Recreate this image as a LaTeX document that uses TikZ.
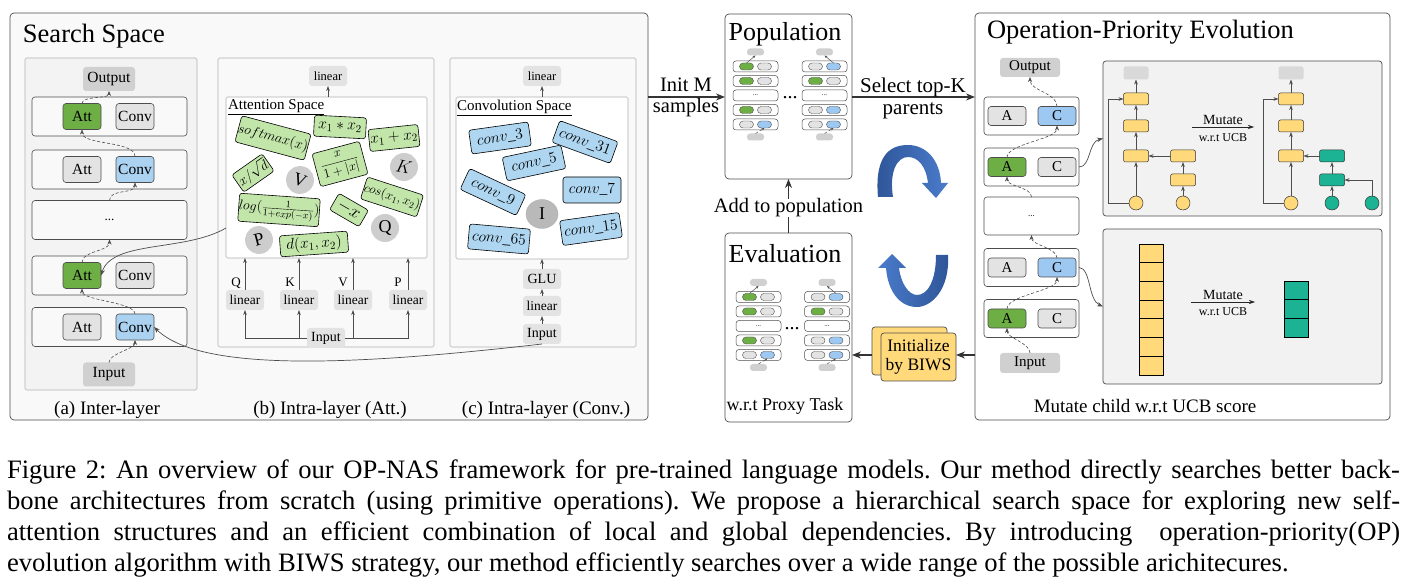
\RequirePackage{fix-cm}
\documentclass[tikz,border=0pt]{standalone}
\usepackage{fontspec}
\setmainfont{Liberation Serif}
\usetikzlibrary{arrows.meta,calc,shapes.geometric}
\definecolor{attgreen}{HTML}{6DAE45}
\definecolor{convblue}{HTML}{ABD2F1}
\definecolor{minblue}{HTML}{9CC8F2}
\definecolor{boxgray}{HTML}{E3E3E3}
\definecolor{iogray}{HTML}{D0D0D0}
\definecolor{lgreen}{HTML}{C2E5AA}
\definecolor{lblue}{HTML}{AED6F1}
\definecolor{ylw}{HTML}{FFD97A}
\definecolor{tealc}{HTML}{1BB394}
\definecolor{panelgray}{HTML}{F2F2F2}
\definecolor{ssfill}{HTML}{F9F9F9}
\definecolor{afill}{HTML}{F3F3F3}
\definecolor{circgray}{HTML}{CDCDCD}
\definecolor{edge}{HTML}{4D4D4D}
\definecolor{adark}{HTML}{2E5597}
\definecolor{alight}{HTML}{4A7BCB}
\newcommand{\fsz}[1]{\fontsize{#1}{#1}\selectfont}
\newcommand{\minicol}[7]{%
  \begin{scope}[shift={#2}]
    \node[minibar] (#1top) at (0,-14.5) {};
    \node[minibar] (#1bot) at (0,70.5) {};
    \node[minirow, font=\fsz{7}] (#1r3) at (0,29) {...};
    \foreach \r/\ca/\cb in {1/#3,2/#4,4/#5,5/#6} {
      \pgfmathsetmacro\yy{(\r-1)*14.5}
      \node[minirow] (#1r\r) at (0,\yy) {};
      \node[minioval, fill=\ca] (#1a\r) at (-9,\yy) {};
      \node[minioval, fill=\cb] (#1b\r) at (9,\yy) {};
    }
    \draw[miniarr] (#1#71.north) -- (#1top.south);
    \draw[miniarr, densely dashed] (#1bot.north) -- (#1b5.south);
  \end{scope}}
\begin{document}
\begin{tikzpicture}[x=1pt,y=-1pt,
  every node/.style={inner sep=0pt, outer sep=0pt},
  bigpanel/.style={draw=edge, rounded corners=4pt, line width=0.7pt, anchor=north west},
  subpanel/.style={draw=gray!60, line width=0.6pt, anchor=north west, rounded corners=1.5pt},
  rowbox/.style={draw=edge, rounded corners=3pt, fill=ssfill, line width=0.6pt, minimum width=155pt, minimum height=39pt},
  oprow/.style={draw=edge, rounded corners=3pt, fill=white, line width=0.6pt, minimum width=95pt, minimum height=38pt},
  opsq/.style={draw=edge, rounded corners=3pt, line width=0.6pt, minimum width=38pt, minimum height=26pt, font=\fsz{15.5}},
  opsm/.style={draw=edge, rounded corners=3pt, line width=0.6pt, minimum width=38pt, minimum height=19pt, font=\fsz{15}},
  iobox/.style={fill=iogray, rounded corners=3pt, minimum width=52pt, minimum height=24pt, font=\fsz{15.5}},
  iosm/.style={fill=iogray, rounded corners=3pt, minimum width=60pt, minimum height=19pt, font=\fsz{15}},
  linbox/.style={fill=boxgray, rounded corners=3pt, minimum width=38pt, minimum height=20pt, font=\fsz{13.5}},
  gmath/.style={draw=black, fill=lgreen, rounded corners=2.5pt, line width=0.6pt},
  bconv/.style={draw=black, fill=lblue, rounded corners=2.5pt, line width=0.6pt, font=\fsz{15.5}},
  gcirc/.style={circle, fill=circgray, minimum size=28pt, font=\fsz{18}},
  dasharr/.style={draw=edge, line width=0.6pt, dash pattern=on 3pt off 2pt, -{Stealth[length=5pt,width=4pt]}},
  arr/.style={draw=edge, line width=0.6pt, -{Stealth[length=5pt,width=3.6pt]}},
  curvearr/.style={draw=edge, line width=0.7pt, -{Stealth[length=6pt,width=4.5pt]}},
  bigarr/.style={draw=black!80, line width=1.3pt, -{Stealth[length=9pt,width=7pt]}},
  minirow/.style={draw=edge, rounded corners=3pt, fill=white, minimum width=45pt, minimum height=11pt, line width=0.5pt},
  minioval/.style={draw=edge, rounded corners=3.5pt, line width=0.4pt, minimum width=14pt, minimum height=7pt},
  minibar/.style={fill=iogray, rounded corners=3pt, minimum width=17pt, minimum height=7pt},
  miniarr/.style={draw=edge, line width=0.5pt, -{Stealth[length=3pt,width=2.5pt]}},
  ybox/.style={draw=black!80, fill=ylw, rounded corners=2pt, line width=0.5pt, minimum width=25pt, minimum height=12pt},
  tbox/.style={draw=black!80, fill=tealc, rounded corners=2pt, line width=0.5pt, minimum width=25pt, minimum height=12pt},
  gbar/.style={fill=gray!30, rounded corners=2pt, minimum width=25pt, minimum height=13pt},
  ycirc/.style={circle, draw=black!80, fill=ylw, line width=0.5pt, minimum size=14pt},
  tcirc/.style={circle, draw=black!80, fill=tealc, line width=0.5pt, minimum size=14pt},
  cell/.style={draw=black, line width=0.6pt, minimum width=24pt, minimum height=18.7pt}
]
\useasboundingbox (0,0) rectangle (1417,585);
\fill[white] (0,0) rectangle (1417,585);

%% ---------------- Search Space ----------------
\node[bigpanel, fill=ssfill, minimum width=638pt, minimum height=407pt] (ss) at (10,13) {};
\node[anchor=base west, font=\fsz{26.5}] (sstitle) at (23,43) {Search Space};

% (a) inter-layer
\node[subpanel, fill=afill, minimum width=172pt, minimum height=332pt] (pa) at (25,58) {};
\node[iobox] (aout) at (109,79) {Output};
\node[rowbox] (ar1) at (109.5,116.5) {};
\node[opsq, fill=attgreen] (aatt1) at (82,116.5) {Att};
\node[opsq, fill=boxgray] (aconv1) at (135,116.5) {Conv};
\node[rowbox] (ar2) at (109.5,169.5) {};
\node[opsq, fill=boxgray] (aatt2) at (82,169.5) {Att};
\node[opsq, fill=convblue] (aconv2) at (135,169.5) {Conv};
\node[rowbox, font=\fsz{13}] (ar3) at (109.5,220) {...};
\node[rowbox] (ar4) at (109.5,275.5) {};
\node[opsq, fill=attgreen] (aatt4) at (82,275.5) {Att};
\node[opsq, fill=boxgray] (aconv4) at (135,275.5) {Conv};
\node[rowbox] (ar5) at (109.5,327) {};
\node[opsq, fill=boxgray] (aatt5) at (82,327) {Att};
\node[opsq, fill=convblue] (aconv5) at (135,327) {Conv};
\node[iobox] (ain) at (109,374.5) {Input};
\draw[dasharr] (ain.north) .. controls +(0,-9) and +(0,9) .. (aconv5.south);
\draw[dasharr] (aconv5.north) .. controls +(0,-12) and +(0,12) .. (aatt4.south);
\draw[dasharr] (aatt4.north) .. controls +(0,-12) and +(0,12) .. (ar3.south);
\draw[dasharr] (ar3.north) .. controls +(0,-12) and +(0,12) .. (aconv2.south);
\draw[dasharr] (aconv2.north) .. controls +(0,-16) and +(0,16) .. (aatt1.south);
\draw[dasharr] (aatt1.north) .. controls +(0,-8) and +(0,8) .. (aout.south);
\node[anchor=base, font=\fsz{19}] (la) at (107,414.5) {(a) Inter-layer};

% (b) attention
\node[subpanel, fill=ssfill, minimum width=216pt, minimum height=289pt] (pb) at (218,58) {};
\node[linbox, font=\fsz{12.5}] (blint) at (328,76) {linear};
\node[subpanel, fill=white, minimum width=201pt, minimum height=161pt] (attsp) at (226,97) {};
\node[anchor=base west, font=\fsz{15}] (atttitle) at (228,110) {\underline{Attention Space}};
\draw[arr] (blint.south |- attsp.north) -- (blint.south);
\node[gmath, rotate=-15, minimum width=64pt, minimum height=27pt, font=\fsz{14}] (gsoft) at (273,138) {$softmax(x)$};
\node[gmath, rotate=-3, minimum width=52pt, minimum height=21pt, font=\fsz{15.5}] (gmul) at (340,127) {$x_1 * x_2$};
\node[gmath, rotate=6, minimum width=50pt, minimum height=22pt, font=\fsz{15.5}] (gadd) at (394,138) {$x_1 + x_2$};
\node[gmath, rotate=35, minimum width=37pt, minimum height=21pt, font=\fsz{14}] (gsq) at (253,173) {$x/\sqrt{d}$};
\node[gcirc, rotate=-20] (cv) at (300,180) {V};
\node[gmath, rotate=15, minimum width=49pt, minimum height=34pt, font=\fsz{13}] (gfrac) at (340,164) {$\displaystyle\frac{x}{1+|x|}$};
\node[gcirc, rotate=-10] (ck) at (404,167) {$K$};
\node[gmath, rotate=-4, minimum width=78pt, minimum height=28pt, font=\fsz{14}] (glog) at (279,210) {$log(\frac{1}{1+exp(-x)})$};
\node[gmath, rotate=-30, minimum width=34pt, minimum height=19pt, font=\fsz{18}] (gneg) at (349,210) {$-x$};
\node[gmath, rotate=-18, minimum width=59pt, minimum height=23pt, font=\fsz{13}] (gcos) at (392,197) {$cos(x_1,x_2)$};
\node[gcirc] (cq) at (385,228) {Q};
\node[gcirc, rotate=15] (cp) at (259,240) {P};
\node[gmath, rotate=4, minimum width=68pt, minimum height=21pt, font=\fsz{15.5}] (gd) at (314,244) {$d(x_1,x_2)$};
\node[linbox] (blq) at (245,300) {linear};
\node[linbox] (blk) at (299,300) {linear};
\node[linbox] (blv) at (353,300) {linear};
\node[linbox] (blp) at (408,300) {linear};
\node[anchor=base, font=\fsz{13}] (tq) at (236,287) {Q};
\node[anchor=base, font=\fsz{13}] (tk) at (290,287) {K};
\node[anchor=base, font=\fsz{13}] (tv) at (343,287) {V};
\node[anchor=base, font=\fsz{13}] (tp) at (398,287) {P};
\foreach \n in {blq,blk,blv,blp} \draw[arr] (\n.north) -- (\n.north |- attsp.south);
\node[linbox, font=\fsz{14}] (bin) at (326,338) {Input};
\draw[arr] (bin.west) -| (blq.south);
\draw[arr] (bin.west) -| (blk.south);
\draw[arr] (bin.east) -| (blv.south);
\draw[arr] (bin.east) -| (blp.south);
\node[anchor=base, font=\fsz{19}] (lb) at (330,414.5) {(b) Intra-layer (Att.)};

% (c) convolution
\node[subpanel, fill=ssfill, minimum width=186pt, minimum height=289pt] (pc) at (450,58) {};
\node[linbox, font=\fsz{12.5}] (clint) at (542,76) {linear};
\node[subpanel, fill=white, minimum width=172pt, minimum height=162pt] (convsp) at (456,97) {};
\node[anchor=base west, font=\fsz{15}] (convtitle) at (457,111) {\underline{Convolution Space}};
\draw[arr] (clint.south |- convsp.north) -- (clint.south);
\node[bconv, rotate=8, minimum width=60pt, minimum height=24pt] (cv3) at (500,138) {$conv\_3$};
\node[bconv, rotate=-20, minimum width=62pt, minimum height=23pt] (cv31) at (585,142) {$conv\_31$};
\node[bconv, rotate=12, minimum width=60pt, minimum height=24pt] (cv5) at (534,163) {$conv\_5$};
\node[bconv, rotate=-25, minimum width=62pt, minimum height=23pt] (cv9) at (493,192) {$conv\_9$};
\node[bconv, minimum width=58pt, minimum height=26pt] (cv7) at (592,190) {$conv\_7$};
\node[ellipse, fill=gray!55, draw=gray!60, minimum width=32pt, minimum height=29pt, font=\fsz{18}] (cvI) at (542,214) {I};
\node[bconv, rotate=-5, minimum width=61pt, minimum height=25pt] (cv65) at (499,239) {$conv\_65$};
\node[bconv, rotate=8, minimum width=60pt, minimum height=25pt] (cv15) at (591,229) {$conv\_15$};
\node[linbox, font=\fsz{14}] (cglu) at (542,279) {GLU};
\node[linbox] (clin) at (542,306) {linear};
\node[linbox, font=\fsz{14}] (cin) at (542,334) {Input};
\draw[arr] (cin.north) -- (clin.south);
\draw[arr] (clin.north) -- (cglu.south);
\draw[arr] (cglu.north) -- (cglu.north |- convsp.south);
\node[anchor=base, font=\fsz{19}] (lc) at (546,414.5) {(c) Intra-layer (Conv.)};

% cross links
\coordinate (attL) at (226,228);
\draw[curvearr] (attL) .. controls (185,252) and (112,240) .. (aatt4.east);
\draw[curvearr] (cin.south) .. controls (350,366) and (200,372) .. (aconv5.east);

%% ---------------- Population / Evaluation ----------------
\node[bigpanel, fill=white, minimum width=127pt, minimum height=165pt] (pop) at (725,14) {};
\node[anchor=base, font=\fsz{26}] (poptitle) at (785,41) {Population};
\minicol{pl}{(755.5,66.5)}{attgreen/boxgray}{attgreen/boxgray}{attgreen/boxgray}{boxgray/minblue}{a}
\minicol{pr}{(824.5,66.5)}{boxgray/minblue}{attgreen/boxgray}{boxgray/minblue}{boxgray/minblue}{b}
\node[font=\fsz{20}] (popdots) at (790,98) {...};

\node[bigpanel, fill=white, minimum width=127pt, minimum height=189pt] (eval) at (725,233) {};
\node[anchor=base, font=\fsz{26}] (evaltitle) at (785,263) {Evaluation};
\minicol{el}{(758.5,297)}{attgreen/boxgray}{attgreen/boxgray}{attgreen/boxgray}{boxgray/minblue}{a}
\minicol{er}{(827,297)}{boxgray/minblue}{attgreen/boxgray}{boxgray/minblue}{boxgray/minblue}{b}
\node[font=\fsz{20}] (evaldots) at (792,329) {...};
\node[anchor=base, font=\fsz{18}] (proxy) at (785,410) {w.r.t Proxy Task};

\node[anchor=base, font=\fsz{20.5}] (addtxt) at (788.5,213) {Add to population};
\draw[draw=black!80, line width=1.1pt] (eval.north) -- (addtxt.south);
\draw[bigarr, line width=1.1pt] (addtxt.north) -- (pop.south);

\draw[bigarr] (ss.east |- 0,97) -- (pop.west |- 0,97);
\node[anchor=base, font=\fsz{20.5}] (initt1) at (686,92) {Init M};
\node[anchor=base, font=\fsz{20.5}] (initt2) at (686,113) {samples};

%% ---------------- OP Evolution ----------------
\node[bigpanel, fill=white, minimum width=415pt, minimum height=407pt] (op) at (975,13) {};
\node[anchor=base west, font=\fsz{26.5}] (optitle) at (987,39) {Operation-Priority Evolution};
\draw[bigarr] (pop.east |- 0,97) -- (op.west |- 0,97);
\node[anchor=base, font=\fsz{21}] (selt1) at (913,93) {Select top-K};
\node[anchor=base, font=\fsz{21}] (selt2) at (913,115) {parents};

\node[iosm] (oout) at (1030,67.5) {Output};
\node[oprow] (or1) at (1031.5,116) {};
\node[opsm, fill=boxgray] (oa1) at (1007,116) {A};
\node[opsm, fill=minblue] (oc1) at (1057,116) {C};
\node[oprow] (or2) at (1031.5,167) {};
\node[opsm, fill=attgreen] (oa2) at (1007,167) {A};
\node[opsm, fill=boxgray] (oc2) at (1057,167) {C};
\node[oprow, font=\fsz{9}] (or3) at (1031.5,216) {...};
\node[oprow] (or4) at (1031.5,267.5) {};
\node[opsm, fill=boxgray] (oa4) at (1007,267.5) {A};
\node[opsm, fill=minblue] (oc4) at (1057,267.5) {C};
\node[oprow] (or5) at (1031.5,318.5) {};
\node[opsm, fill=attgreen] (oa5) at (1007,318.5) {A};
\node[opsm, fill=boxgray] (oc5) at (1057,318.5) {C};
\node[iosm, minimum height=20pt] (oin) at (1030,363) {Input};
\draw[dasharr] (oin.north) .. controls +(0,-10) and +(0,10) .. (oa5.south);
\draw[dasharr] (oa5.north) .. controls +(0,-14) and +(0,14) .. (oc4.south);
\draw[dasharr] (oc4.north) .. controls +(0,-10) and +(0,10) .. (or3.south);
\draw[dasharr] (or3.north) .. controls +(0,-10) and +(0,10) .. (oa2.south);
\draw[dasharr] (oa2.north) .. controls +(0,-14) and +(0,14) .. (oc1.south);
\draw[dasharr] (oc1.north) .. controls +(0,-14) and +(0,14) .. (oout.south);
\node[anchor=base, font=\fsz{19}] (mutchild) at (1145,413) {Mutate child w.r.t UCB score};

% top grey panel
\node[bigpanel, draw=edge, rounded corners=3pt, fill=panelgray, minimum width=279pt, minimum height=155pt] (tpan) at (1103,61) {};
\draw[curvearr] (or2.east) .. controls (1091,167) and (1088,142) .. (tpan.west);
\node[gbar] (lg0) at (1136,73) {};
\node[ybox] (l1) at (1136,99) {};
\node[ybox] (l2) at (1136,126) {};
\node[ybox] (l3) at (1136,156) {};
\node[ybox] (l4) at (1183,156) {};
\node[ybox] (l5) at (1183,180) {};
\node[ycirc] (lc1) at (1136,203) {};
\node[ycirc] (lc2) at (1183,203) {};
\draw[arr] (lc1.north) -- (l3.south);
\draw[arr] (l3.north) -- (l2.south);
\draw[arr] (l2.north) -- (l1.south);
\draw[arr] (l1.north) -- (lg0.south);
\draw[arr] (l4.west) -- (l3.east);
\draw[arr] (l5.north) -- (l4.south);
\draw[arr] (lc2.north) -- (l5.south);
\draw[arr] (lc1.west) -| ($(l1.west)+(-15,0)$) -- (l1.west);
\coordinate (mus1) at (1192,127);
\coordinate (mue1) at (1254,127);
\draw[draw=black!85, line width=0.6pt, -{Stealth[length=6pt,width=4pt]}] (mus1) -- (mue1);
\node[font=\fsz{14}] (mut1) at (1223,120) {Mutate};
\node[font=\fsz{12}] (ucb1) at (1223,137.5) {w.r.t UCB};
\node[gbar] (rg0) at (1291,73) {};
\node[ybox] (r1) at (1291,99) {};
\node[ybox] (r2) at (1291,126) {};
\node[ybox] (r3) at (1291,156) {};
\node[tbox] (t4) at (1332,156) {};
\node[tbox] (t5) at (1332,180) {};
\node[ycirc] (rc1) at (1291,203) {};
\node[tcirc] (rc2) at (1332,203) {};
\node[tcirc] (rc3) at (1372,203) {};
\draw[arr] (rc1.north) -- (r3.south);
\draw[arr] (r3.north) -- (r2.south);
\draw[arr] (r2.north) -- (r1.south);
\draw[arr] (r1.north) -- (rg0.south);
\draw[arr] (t4.west) -- (r3.east);
\draw[arr] (t5.north) -- (t4.south);
\draw[arr] (rc2.north) -- (t5.south);
\draw[arr] (rc3.north) |- (t5.east);
\draw[arr] (rc1.west) -| ($(r1.west)+(-15,0)$) -- (r1.west);

% bottom grey panel
\node[bigpanel, draw=edge, rounded corners=3pt, fill=panelgray, minimum width=279pt, minimum height=155pt] (bpan) at (1103,229) {};
\draw[curvearr] (or4.east) .. controls (1091,268) and (1088,300) .. (bpan.west);
\foreach \i in {0,...,6} {
  \node[cell, fill=ylw] (ys\i) at (1151,{253.35+\i*18.7}) {};
}
\foreach \i in {0,1,2} {
  \node[cell, fill=tealc] (ts\i) at (1296,{290.35+\i*18.7}) {};
}
\coordinate (mus2) at (1191,302);
\coordinate (mue2) at (1255,302);
\draw[draw=black!85, line width=0.6pt, -{Stealth[length=6pt,width=4pt]}] (mus2) -- (mue2);
\node[font=\fsz{14}] (mut2) at (1223,295) {Mutate};
\node[font=\fsz{12}] (ucb2) at (1223,312) {w.r.t UCB};

%% ---------------- BIWS and cycle arrows ----------------
\node[bigpanel, draw=edge, rounded corners=3pt, fill=ylw, minimum width=75pt, minimum height=48pt] (biwsb) at (872,327) {};
\node[bigpanel, draw=edge, rounded corners=3pt, fill=ylw, minimum width=75pt, minimum height=48pt, align=center, font=\fontsize{17.5}{19.5}\selectfont] (biwsf) at (881,333) {Initialize\\by BIWS};
\coordinate (biwsy) at (0,355);
\draw[bigarr, line width=1.1pt] (op.west |- biwsy) -- (biwsf.east |- biwsy);
\draw[bigarr, line width=1.1pt] (biwsb.west |- biwsy) -- (eval.east |- biwsy);

\shade[left color=adark, right color=alight] (878,197) .. controls (874,152) and (893,145) .. (908,145) .. controls (926,145) and (940,160) .. (941,183) -- (948,183) -- (936,198) -- (922,183) -- (928,183) .. controls (926,166) and (918,157) .. (908,157) .. controls (897,157) and (889,172) .. (893,197) -- cycle;
\shade[left color=alight, right color=adark] (948,255) .. controls (950,290) and (931,307) .. (917,307) .. controls (900,307) and (888,292) .. (886,268) -- (878,268) -- (892,254) -- (906,268) -- (899,268) .. controls (901,284) and (909,295) .. (917,295) .. controls (928,295) and (936,280) .. (936,255) -- cycle;

%% ---------------- Caption ----------------
\node[anchor=north west, text width=1393pt, align=justify, font=\fontsize{26.6}{31}\selectfont] (cap) at (7,460) {\frenchspacing\hyphenpenalty=10000\exhyphenpenalty=10000 Figure 2: An overview of our OP-NAS framework for pre-trained language models. Our method directly searches better back-\linebreak bone architectures from scratch (using primitive operations). We propose a hierarchical search space for exploring new self-\linebreak attention structures and an efficient combination of local and global dependencies. By introducing\ \ operation-priority(OP)\linebreak evolution algorithm with BIWS strategy, our method efficiently searches over a wide range of the possible arichitecures.};
\end{tikzpicture}
\end{document}
